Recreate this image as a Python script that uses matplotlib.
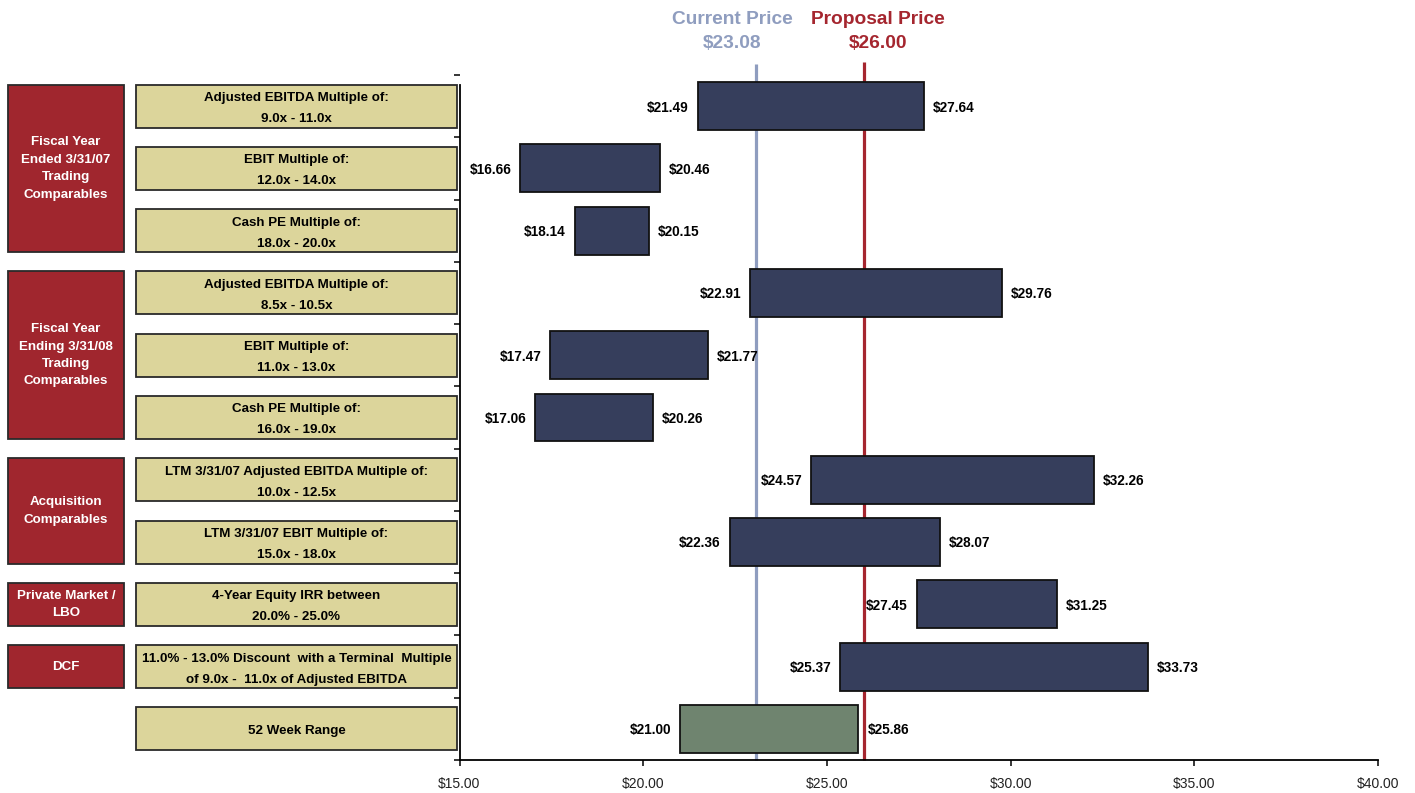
import matplotlib
matplotlib.use("Agg")
import matplotlib.pyplot as plt
from matplotlib.patches import Rectangle
from matplotlib.ticker import FuncFormatter

plt.rcParams["font.family"] = ["Liberation Sans", "DejaVu Sans"]

# Valuation methods (one row each, top to bottom)
methods = [
    "Adjusted EBITDA Multiple of:\n9.0x - 11.0x",
    "EBIT Multiple of:\n12.0x - 14.0x",
    "Cash PE Multiple of:\n18.0x - 20.0x",
    "Adjusted EBITDA Multiple of:\n8.5x - 10.5x",
    "EBIT Multiple of:\n11.0x - 13.0x",
    "Cash PE Multiple of:\n16.0x - 19.0x",
    "LTM 3/31/07 Adjusted EBITDA Multiple of:\n10.0x - 12.5x",
    "LTM 3/31/07 EBIT Multiple of:\n15.0x - 18.0x",
    "4-Year Equity IRR between\n20.0% - 25.0%",
    "11.0% - 13.0% Discount  with a Terminal  Multiple\nof 9.0x -  11.0x of Adjusted EBITDA",
    "52 Week Range",
]
low_values = [21.49, 16.66, 18.14, 22.91, 17.47, 17.06, 24.57, 22.36, 27.45, 25.37, 21.00]
high_values = [27.64, 20.46, 20.15, 29.76, 21.77, 20.26, 32.26, 28.07, 31.25, 33.73, 25.86]

# Category groups: (label, first row, number of rows)
group_labels = ["Fiscal Year\nEnded 3/31/07\nTrading\nComparables",
                "Fiscal Year\nEnding 3/31/08\nTrading\nComparables",
                "Acquisition\nComparables",
                "Private Market /\nLBO",
                "DCF"]
group_starts = [0, 3, 6, 8, 9]
group_sizes = [3, 3, 2, 1, 1]

current_price = 23.08
proposal_price = 26.00
x_ticks = [15, 20, 25, 30, 35, 40]

NAVY = "#363E5C"
GREEN = "#6F846F"
BEIGE = "#DCD59B"
DARK_RED = "#A0262E"
CUR_COLOR = "#8F9DBF"
PROP_COLOR = "#A5262F"

W, H = 1415, 793
fig = plt.figure(figsize=(W / 100, H / 100), dpi=100)

ax_left, ax_right = 459.5, 1378
ax_top, ax_bottom = 75, 760
ax = fig.add_axes([ax_left / W, 1 - ax_bottom / H,
                   (ax_right - ax_left) / W, (ax_bottom - ax_top) / H])

n = len(methods)
ax.set_xlim(15, 40)
ax.set_ylim(n, 0)

# price reference lines (extend a little above the plot)
ax.plot([current_price, current_price], [n, -0.17], color=CUR_COLOR, lw=2.3,
        zorder=1, clip_on=False, solid_capstyle="butt")
ax.plot([proposal_price, proposal_price], [n, -0.21], color=PROP_COLOR, lw=2.3,
        zorder=1, clip_on=False, solid_capstyle="butt")

centers = [i + 0.5 for i in range(n)]
widths = [h - l for l, h in zip(low_values, high_values)]
colors = [NAVY] * (n - 1) + [GREEN]
ax.barh(centers, widths, left=low_values, height=0.77, color=colors,
        edgecolor="#111111", linewidth=1.3, zorder=2)

for y, lo, hi in zip(centers, low_values, high_values):
    ax.annotate(f"${lo:.2f}", (lo, y), xytext=(-6.5, -1), textcoords="offset points",
                ha="right", va="center", fontsize=9.8, fontweight="bold", color="black")
    ax.annotate(f"${hi:.2f}", (hi, y), xytext=(6.5, -1), textcoords="offset points",
                ha="left", va="center", fontsize=9.8, fontweight="bold", color="black")

# axes styling
for s in ("top", "right"):
    ax.spines[s].set_visible(False)
ax.spines["left"].set_bounds(n, 0.16)
ax.spines["left"].set_linewidth(1.3)
ax.spines["bottom"].set_linewidth(1.3)
ax.set_yticks(range(n + 1))
ax.set_yticklabels([])
ax.tick_params(axis="y", direction="out", length=4.5, width=1.1)
ax.set_xticks(x_ticks)
ax.xaxis.set_major_formatter(FuncFormatter(lambda v, p: f"${v:.2f}"))
ax.tick_params(axis="x", direction="out", length=4, width=1.1, pad=8.5,
               labelsize=10, labelcolor="#222222")

# left-hand label panel, sharing the row geometry
lp = fig.add_axes([0, 1 - ax_bottom / H, ax_left / W, (ax_bottom - ax_top) / H])
lp.set_xlim(0, ax_left)
lp.set_ylim(n, 0)
lp.axis("off")

box_h = 0.69
for y, txt in zip(centers, methods):
    lp.add_patch(Rectangle((136, y - box_h / 2), 457 - 136, box_h, facecolor=BEIGE,
                           edgecolor="#2a2a2a", linewidth=1.3))
    lp.text((136 + 457) / 2, y + 0.04, txt, ha="center", va="center", fontsize=9.6,
            fontweight="bold", color="black", linespacing=2.0)

for label, start, size in zip(group_labels, group_starts, group_sizes):
    top = start + 0.5 - box_h / 2
    bottom = start + size - 0.5 + box_h / 2
    lp.add_patch(Rectangle((8, top), 124 - 8, bottom - top, facecolor=DARK_RED,
                           edgecolor="#2a2a2a", linewidth=1.3))
    lp.text((8 + 124) / 2, (top + bottom) / 2, label, ha="center", va="center",
            fontsize=9.6, fontweight="bold", color="white", linespacing=1.6)

# price headers
def px(x, y):
    return x / W, 1 - y / H

fig.text(*px(732, 19), "Current Price", ha="center", va="center", fontsize=13.8,
         fontweight="bold", color=CUR_COLOR)
fig.text(*px(732, 43), f"${current_price:.2f}", ha="center", va="center", fontsize=13.8,
         fontweight="bold", color=CUR_COLOR)
fig.text(*px(878, 19), "Proposal Price", ha="center", va="center", fontsize=13.8,
         fontweight="bold", color=PROP_COLOR)
fig.text(*px(878, 43), f"${proposal_price:.2f}", ha="center", va="center", fontsize=13.8,
         fontweight="bold", color=PROP_COLOR)

fig.savefig("out.png", dpi=100, facecolor="white")
